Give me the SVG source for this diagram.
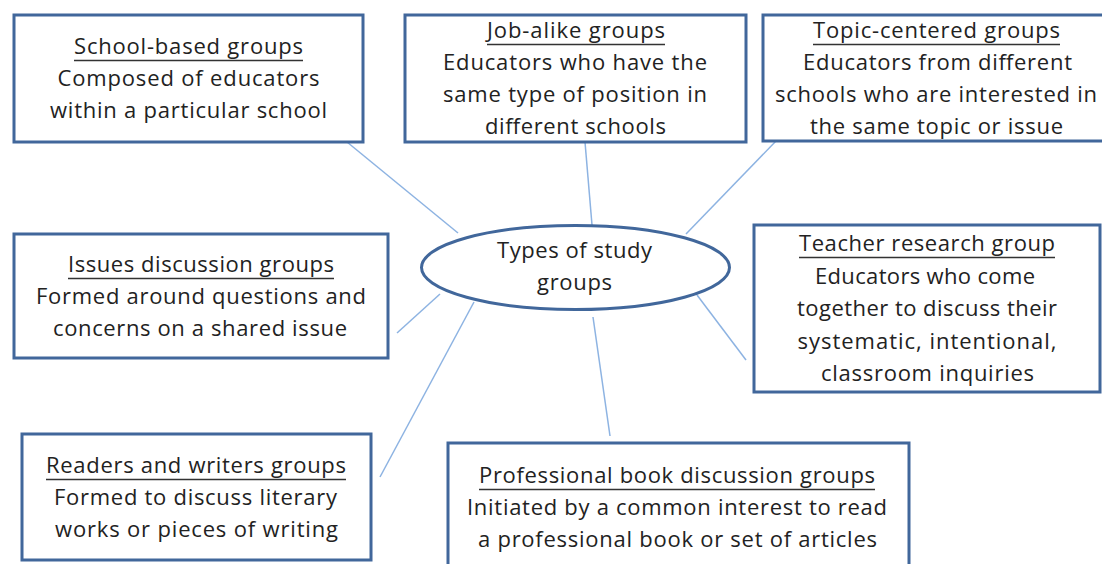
<svg xmlns="http://www.w3.org/2000/svg" width="1102" height="564" viewBox="0 0 1102 564">
<style>
.box{fill:#fff;stroke:#41679b;stroke-width:3}
.t{font-family:"Open Sans","Liberation Sans",sans-serif;font-size:22px;fill:#222;text-anchor:middle}
.u{stroke:#333;stroke-width:1.3}
.c{stroke:#8db3e2;stroke-width:1.5;fill:none}
</style>
<rect width="1102" height="564" fill="#fff"/>
<g id="connectors">
<line class="c" x1="347" y1="142" x2="458" y2="233"/>
<line class="c" x1="585" y1="142" x2="592" y2="225"/>
<line class="c" x1="776" y1="141" x2="686" y2="234"/>
<line class="c" x1="397" y1="333" x2="440" y2="294"/>
<line class="c" x1="380" y1="477" x2="474" y2="302"/>
<line class="c" x1="593" y1="317" x2="610" y2="436"/>
<line class="c" x1="697" y1="295" x2="746" y2="360"/>
</g>
<g id="center">
<ellipse cx="575.5" cy="267.5" rx="154" ry="42" fill="#fff" stroke="#41679b" stroke-width="3"/>
<text class="t" x="574.5" y="258" textLength="155">Types of study</text>
<text class="t" x="574.5" y="290" textLength="75">groups</text>
</g>
<g id="school">
<rect class="box" x="14" y="15" width="349" height="127"/>
<text class="t" x="188.5" y="54" textLength="229">School-based groups</text>
<line class="u" x1="74" y1="60.5" x2="303" y2="60.5"/>
<text class="t" x="188.5" y="86" textLength="262">Composed of educators</text>
<text class="t" x="188.5" y="118" textLength="277">within a particular school</text>
</g>
<g id="jobalike">
<rect class="box" x="405" y="15" width="341" height="127"/>
<text class="t" x="576" y="38" textLength="178">Job-alike groups</text>
<line class="u" x1="487" y1="44.5" x2="665" y2="44.5"/>
<text class="t" x="575" y="70" textLength="264">Educators who have the</text>
<text class="t" x="575" y="102" textLength="264">same type of position in</text>
<text class="t" x="575.5" y="134" textLength="181">different schools</text>
</g>
<g id="topic">
<rect class="box" x="763" y="15" width="360" height="126"/>
<text class="t" x="936.5" y="38" textLength="247">Topic-centered groups</text>
<line class="u" x1="813" y1="44.5" x2="1060" y2="44.5"/>
<text class="t" x="937.5" y="70" textLength="269">Educators from different</text>
<text class="t" x="936" y="102" textLength="322">schools who are interested in</text>
<text class="t" x="936.5" y="134" textLength="253">the same topic or issue</text>
</g>
<g id="issues">
<rect class="box" x="14" y="234" width="374" height="124"/>
<text class="t" x="201" y="272" textLength="266">Issues discussion groups</text>
<line class="u" x1="68" y1="278.5" x2="334" y2="278.5"/>
<text class="t" x="201" y="304" textLength="330">Formed around questions and</text>
<text class="t" x="200" y="336" textLength="294">concerns on a shared issue</text>
</g>
<g id="teacher">
<rect class="box" x="754" y="225" width="346" height="167"/>
<text class="t" x="927" y="251" textLength="256">Teacher research group</text>
<line class="u" x1="799" y1="257.5" x2="1055" y2="257.5"/>
<text class="t" x="925" y="283.5" textLength="220">Educators who come</text>
<text class="t" x="927" y="316" textLength="260">together to discuss their</text>
<text class="t" x="927" y="348.5" textLength="259">systematic, intentional,</text>
<text class="t" x="927.5" y="381" textLength="213">classroom inquiries</text>
</g>
<g id="readers">
<rect class="box" x="22" y="434" width="349" height="126"/>
<text class="t" x="196" y="473" textLength="300">Readers and writers groups</text>
<line class="u" x1="46" y1="479.5" x2="346" y2="479.5"/>
<text class="t" x="195.5" y="505" textLength="283">Formed to discuss literary</text>
<text class="t" x="196.5" y="537" textLength="283">works or pieces of writing</text>
</g>
<g id="professional">
<rect class="box" x="448" y="443" width="461" height="140"/>
<text class="t" x="677" y="483" textLength="396">Professional book discussion groups</text>
<line class="u" x1="479" y1="489.5" x2="875" y2="489.5"/>
<text class="t" x="677" y="515" textLength="420">Initiated by a common interest to read</text>
<text class="t" x="677.5" y="547" textLength="399">a professional book or set of articles</text>
</g>
</svg>
